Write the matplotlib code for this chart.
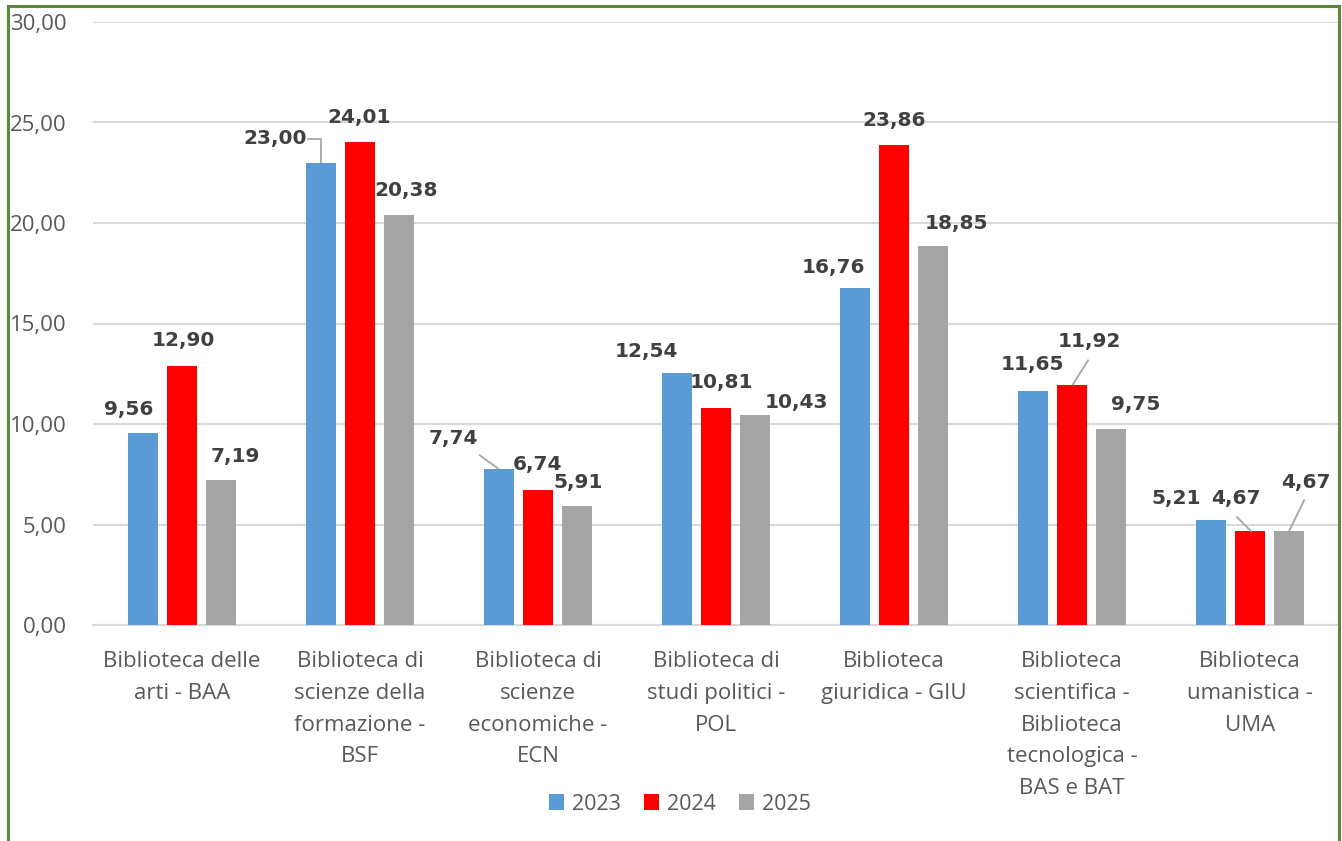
import matplotlib
matplotlib.use("Agg")
import matplotlib.pyplot as plt
from matplotlib.patches import Patch
from matplotlib.lines import Line2D
import numpy as np

categories = [
    "Biblioteca delle\narti - BAA",
    "Biblioteca di\nscienze della\nformazione -\nBSF",
    "Biblioteca di\nscienze\neconomiche -\nECN",
    "Biblioteca di\nstudi politici -\nPOL",
    "Biblioteca\ngiuridica - GIU",
    "Biblioteca\nscientifica -\nBiblioteca\ntecnologica -\nBAS e BAT",
    "Biblioteca\numanistica -\nUMA",
]
series_names = ["2023", "2024", "2025"]
values_2023 = [9.56, 23.00, 7.74, 12.54, 16.76, 11.65, 5.21]
values_2024 = [12.90, 24.01, 6.74, 10.81, 23.86, 11.92, 4.67]
values_2025 = [7.19, 20.38, 5.91, 10.43, 18.85, 9.75, 4.67]
y_ticks = [0, 5, 10, 15, 20, 25, 30]

colors = ["#5B9BD5", "#FF0000", "#A5A5A5"]
series = [values_2023, values_2024, values_2025]

# label offsets in pixels (dx, dy) from bar-top centre
label_offsets = [
    [(-14, 23), (-46, 24), (-45, 31), (-30, 21), (-21, 21), (0, 26), (-35, 22)],
    [(1, 25), (-1, 25), (0, 25), (5, 25), (0, 25), (17, 44), (-14, 33)],
    [(14, 24), (7, 25), (1, 24), (41, 13), (23, 23), (25, 25), (17, 49)],
]
# leader lines: (series index, category index, list of pixel offsets from bar top)
leaders = [
    (0, 1, [(-13, 24), (0, 24), (0, 1)]),
    (0, 2, [(-19, 14), (-1, 1)]),
    (1, 5, [(16, 25), (1, 1)]),
    (1, 6, [(-13, 14), (1, 0)]),
    (2, 6, [(15, 31), (0, 0)]),
]

W, H = 1342, 841
fig = plt.figure(figsize=(W / 100, H / 100), dpi=100)
fig.patch.set_facecolor("white")
ax = fig.add_axes([93 / W, (H - 625) / H, (1339 - 93) / W, (625 - 22) / H])

x = np.arange(len(categories))
offs = [-0.22, 0.0, 0.22]
bw = 0.17
for s, vals in enumerate(series):
    ax.bar(x + offs[s], vals, width=bw, color=colors[s], zorder=3,
           label=series_names[s])

ax.set_xlim(-0.5, len(categories) - 0.5)
ax.set_ylim(0, 30)
ax.set_yticks(y_ticks)
ax.set_yticklabels([f"{v:.2f}".replace(".", ",") for v in y_ticks],
                   fontfamily="Open Sans", fontsize=16, color="#595959")
ax.set_xticks(x)
ax.set_xticklabels(categories, fontfamily="Open Sans", fontsize=16,
                   color="#595959", linespacing=1.66, va="top")
ax.tick_params(axis="both", length=0)
ax.tick_params(axis="y", pad=19)
ax.tick_params(axis="x", pad=19)
for sp in ["top", "right", "left"]:
    ax.spines[sp].set_visible(False)
ax.spines["bottom"].set_color("#D9D9D9")
ax.spines["bottom"].set_linewidth(1.5)
ax.yaxis.grid(True, color="#D9D9D9", linewidth=1.5, zorder=0)
ax.set_axisbelow(True)

for s, vals in enumerate(series):
    for i, v in enumerate(vals):
        dx, dy = label_offsets[s][i]
        ax.annotate(f"{v:.2f}".replace(".", ","), xy=(x[i] + offs[s], v),
                    xytext=(dx, dy), textcoords="offset pixels",
                    ha="center", va="center", fontsize=14.5, fontweight="bold",
                    fontfamily="DejaVu Sans", color="#404040", zorder=5)

fig.canvas.draw()
for s, i, pts in leaders:
    bx, by = ax.transData.transform((x[i] + offs[s], series[s][i]))
    xs = [bx + p[0] for p in pts]
    ys = [by + p[1] for p in pts]
    fig.add_artist(Line2D(xs, ys, transform=None, color="#A6A6A6",
                          linewidth=1.3, zorder=6))

handles = [Patch(facecolor=c, edgecolor="none") for c in colors]
fig.legend(handles, series_names, loc="center", bbox_to_anchor=(680 / W, (H - 804) / H),
           ncol=3, frameon=False, prop={"family": "Open Sans", "size": 15.5},
           labelcolor="#595959", handlelength=0.7, handleheight=0.7,
           handletextpad=0.35, columnspacing=1.1)

green = "#5A8A3C"
fig.add_artist(Line2D([8 / W, 8 / W], [0, (H - 6) / H], transform=fig.transFigure,
                      color=green, linewidth=2.2))
fig.add_artist(Line2D([8 / W, 1338.5 / W], [(H - 6) / H, (H - 6) / H],
                      transform=fig.transFigure, color=green, linewidth=2.2))
fig.add_artist(Line2D([1338.5 / W, 1338.5 / W], [0, (H - 6) / H],
                      transform=fig.transFigure, color=green, linewidth=2.2))

fig.savefig("out.png", dpi=100)
